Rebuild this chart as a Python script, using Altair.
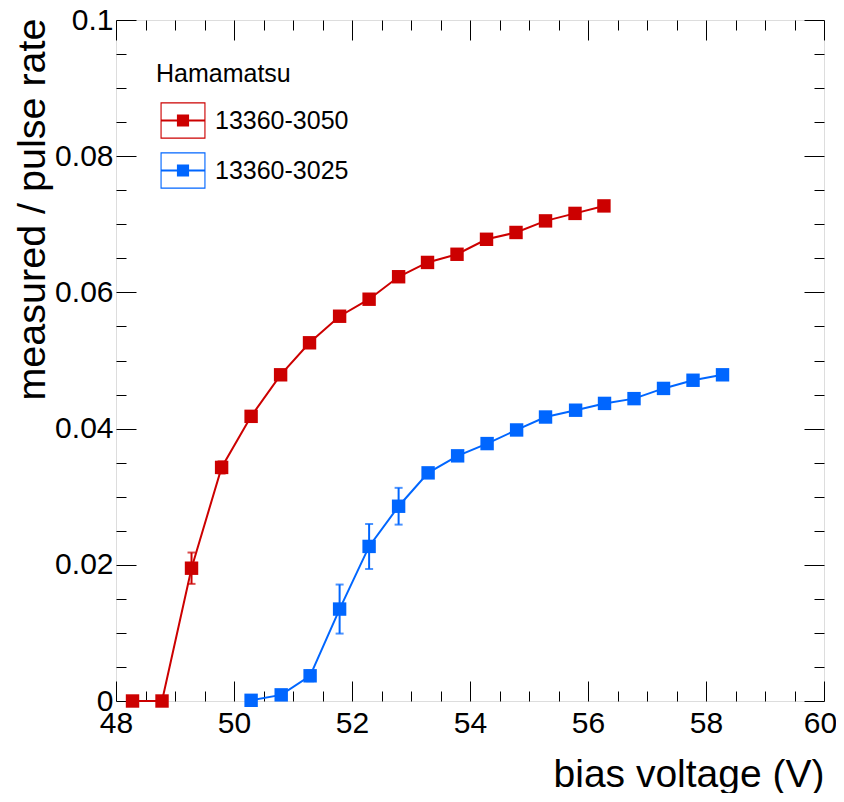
import altair as alt
import pandas as pd

# ---------------- data ----------------
series_names = ["13360-3050", "13360-3025"]
series_colors = ["#CC0000", "#0066FF"]

volt_3050 = [48.28, 48.78, 49.28, 49.79, 50.29, 50.79, 51.28, 51.79, 52.29,
             52.79, 53.28, 53.78, 54.28, 54.78, 55.28, 55.78, 56.27]
rate_3050 = [0.0, 0.0, 0.0195, 0.0343, 0.0418, 0.0479, 0.0526, 0.0565, 0.0590,
             0.0623, 0.0644, 0.0656, 0.0678, 0.0688, 0.0705, 0.0716, 0.0727]
err_3050 = [0.0003, 0.0003, 0.0023, 0.0009, 0.0007, 0.0006, 0.0006, 0.0005, 0.0005,
            0.0005, 0.0005, 0.0005, 0.0005, 0.0005, 0.0005, 0.0005, 0.0005]

volt_3025 = [50.29, 50.80, 51.29, 51.79, 52.29, 52.79, 53.29, 53.79, 54.29,
             54.79, 55.28, 55.79, 56.28, 56.78, 57.28, 57.78, 58.28]
rate_3025 = [0.0001, 0.0009, 0.0037, 0.0135, 0.0227, 0.0286, 0.0335, 0.0360, 0.0378,
             0.0398, 0.0417, 0.0427, 0.0437, 0.0444, 0.0459, 0.0471, 0.0479]
err_3025 = [0.0002, 0.0004, 0.0008, 0.0036, 0.0033, 0.0027, 0.0007, 0.0006, 0.0005,
            0.0005, 0.0005, 0.0005, 0.0005, 0.0005, 0.0005, 0.0005, 0.0005]

x_major = [48, 50, 52, 54, 56, 58, 60]
x_minor = [48.5, 49, 49.5, 50.5, 51, 51.5, 52.5, 53, 53.5, 54.5, 55, 55.5,
           56.5, 57, 57.5, 58.5, 59, 59.5]
y_major = [0, 0.02, 0.04, 0.06, 0.08, 0.1]
y_minor = [0.005, 0.01, 0.015, 0.025, 0.03, 0.035, 0.045, 0.05, 0.055,
           0.065, 0.07, 0.075, 0.085, 0.09, 0.095]

# ---------------- table ----------------
df1 = pd.DataFrame({"v": volt_3050, "r": rate_3050, "e": err_3050, "s": series_names[0]})
df2 = pd.DataFrame({"v": volt_3025, "r": rate_3025, "e": err_3025, "s": series_names[1]})
df = pd.concat([df1, df2], ignore_index=True)
df["lo"] = df["r"] - df["e"]
df["hi"] = df["r"] + df["e"]

W, H = 708, 681
FONT = "Liberation Sans"

xs = alt.Scale(domain=[48, 60], nice=False, zero=False)
ys = alt.Scale(domain=[0, 0.1], nice=False, zero=False)
cs = alt.Scale(domain=series_names, range=series_colors)

ax_x = alt.Axis(orient="bottom", values=x_major, format="~g", ticks=False, tickSize=0,
                domain=False, grid=False, labelFontSize=30, labelPadding=7,
                labelFlush=False, labelOverlap=False, labelFont=FONT, labelColor="black",
                labelOffset={"condition": {"test": "datum.value == 60", "value": -4},
                             "value": 0},
                title="bias voltage (V)", titleFontSize=39, titleFont=FONT,
                titleFontWeight="normal", titleColor="black", titleAngle=0,
                titleAlign="right", titleBaseline="alphabetic", titleX=W, titleY=85)
ax_y = alt.Axis(orient="left", values=y_major, format="~g", ticks=False, tickSize=0,
                domain=False, grid=False, labelFontSize=30, labelPadding=3,
                labelFlush=False, labelOverlap=False, labelFont=FONT, labelColor="black",
                title="measured / pulse rate", titleFontSize=39.5, titleFont=FONT,
                titleFontWeight="normal", titleColor="black", titleAngle=270,
                titleAlign="right", titleBaseline="alphabetic", titleX=-72, titleY=-2)

# legend symbol: framed box + line + filled square (ring via opposite winding)
legend_path = (
    "M-0.8,-0.81 L1.2,-0.81 L1.2,0.81 L-0.8,0.81 Z "
    "M-0.75,-0.76 L-0.75,0.76 L1.15,0.76 L1.15,-0.76 Z "
    "M-0.8,-0.045 L1.2,-0.045 L1.2,0.045 L-0.8,0.045 Z "
    "M-0.07,-0.27 L0.47,-0.27 L0.47,0.27 L-0.07,0.27 Z"
)

legend = alt.Legend(title="Hamamatsu", orient="none", legendX=40, legendY=42,
                    symbolType=legend_path, symbolSize=2025, symbolStrokeWidth=0,
                    symbolOpacity=1,
                    labelFontSize=25, labelFont=FONT, labelColor="black", labelOffset=14,
                    titleFontSize=25, titleFont=FONT, titleFontWeight="normal",
                    titleColor="black", titlePadding=11, rowPadding=9, padding=0)

color_enc = alt.Color("s:N", scale=cs, legend=legend)

base = alt.Chart(df)

err = base.mark_errorbar(ticks=True, size=8, thickness=2).encode(
    x=alt.X("v:Q", scale=xs, axis=ax_x),
    y=alt.Y("lo:Q", scale=ys, axis=ax_y),
    y2="hi:Q",
    color=color_enc,
)
line = base.mark_line(strokeWidth=2).encode(
    x=alt.X("v:Q", scale=xs, axis=ax_x),
    y=alt.Y("r:Q", scale=ys, axis=ax_y),
    color=color_enc,
)
pts = base.mark_square(size=180, opacity=1).encode(
    x=alt.X("v:Q", scale=xs, axis=ax_x),
    y=alt.Y("r:Q", scale=ys, axis=ax_y),
    color=color_enc,
)
data_layer = alt.layer(err, line, pts)


def tick_layer(xvals, yvals, xorient, yorient, length):
    common = dict(offset=-length, tickSize=length, labels=False, domain=False,
                  grid=False, title=None, tickColor="black", tickWidth=1)
    return alt.Chart(df).mark_point(opacity=0).encode(
        x=alt.X("v:Q", scale=xs, axis=alt.Axis(orient=xorient, values=xvals, **common)),
        y=alt.Y("r:Q", scale=ys, axis=alt.Axis(orient=yorient, values=yvals, **common)),
    )


t_major_bl = tick_layer(x_major, y_major, "bottom", "left", 20)
t_minor_bl = tick_layer(x_minor, y_minor, "bottom", "left", 10)
t_major_tr = tick_layer(x_major, y_major, "top", "right", 20)
t_minor_tr = tick_layer(x_minor, y_minor, "top", "right", 10)

chart = (
    alt.layer(data_layer, t_major_bl, t_minor_bl, t_major_tr, t_minor_tr)
    .resolve_scale(x="independent", y="independent")
    .properties(width=W, height=H,
                padding={"left": 108, "top": 12, "right": 12, "bottom": 92},
                autosize=alt.AutoSizeParams(type="none"))
    .configure_view(stroke="black", strokeWidth=1)
    .configure(font=FONT)
)

chart.save("out.html", embed_options={"renderer": "svg", "actions": False})
